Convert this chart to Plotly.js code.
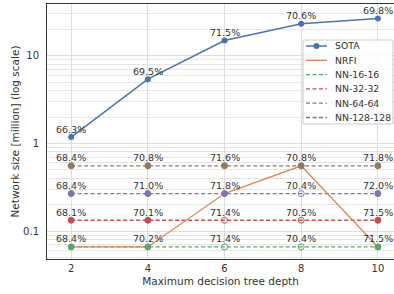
<!DOCTYPE html>
<html>
<head>
<meta charset="utf-8">
<script src="https://cdn.plot.ly/plotly-3.0.1.min.js"></script>
<style>html,body{margin:0;padding:0;background:#fff;}#chart{width:394px;height:294px;}</style>
</head>
<body>
<div id="chart"></div>
<script>
// ---- data ----
const depths = [2, 4, 6, 8, 10];
const seriesNames = ["SOTA", "NRFI", "NN-16-16", "NN-32-32", "NN-64-64", "NN-128-128"];
const sotaSize = [1.18, 5.4, 14.9, 23.1, 26.5];
const sotaAcc = [66.3, 69.5, 71.5, 70.6, 69.8];
const nrfiSize = [0.066, 0.066, 0.268, 0.556, 0.066];
const nn16Size = [0.066, 0.066, 0.066, 0.066, 0.066];
const nn16Acc = [68.4, 70.2, 71.4, 70.4, 71.5];
const nn32Size = [0.133, 0.133, 0.133, 0.133, 0.133];
const nn32Acc = [68.1, 70.1, 71.4, 70.5, 71.5];
const nn64Size = [0.268, 0.268, 0.268, 0.268, 0.268];
const nn64Acc = [68.4, 71.0, 71.8, 70.4, 72.0];
const nn128Size = [0.556, 0.556, 0.556, 0.556, 0.556];
const nn128Acc = [68.4, 70.8, 71.6, 70.8, 71.8];
const yTickVals = [0.1, 1, 10];
const yTickText = ["0.1", "1", "10"];

// ---- style ----
const colors = {
  "SOTA": "#4c72b0", "NRFI": "#dd8452", "NN-16-16": "#55a868",
  "NN-32-32": "#c44e52", "NN-64-64": "#8172b3", "NN-128-128": "#937860"
};
// open (hollow) markers per NN series
const openMarker = {
  "NN-16-16": [false, false, true, true, false],
  "NN-32-32": [false, false, true, true, false],
  "NN-64-64": [false, false, false, true, false],
  "NN-128-128": [false, false, false, false, false]
};
const FONT = "DejaVu Sans, sans-serif";
const TXT = "#333333";

const nnSeries = [
  {name: "NN-16-16", size: nn16Size, acc: nn16Acc},
  {name: "NN-32-32", size: nn32Size, acc: nn32Acc},
  {name: "NN-64-64", size: nn64Size, acc: nn64Acc},
  {name: "NN-128-128", size: nn128Size, acc: nn128Acc}
];

const traces = [];
nnSeries.forEach(s => traces.push({
  x: depths, y: s.size, type: "scatter", mode: "lines", name: s.name, showlegend: false,
  line: {color: colors[s.name], width: 1.3, dash: "4px,2.5px"}, hoverinfo: "skip"
}));
traces.push({
  x: depths, y: nrfiSize, type: "scatter", mode: "lines", name: "NRFI", showlegend: false,
  line: {color: colors["NRFI"], width: 1.3}
});
nnSeries.forEach(s => traces.push({
  x: depths, y: s.size, type: "scatter", mode: "markers", name: s.name, showlegend: false,
  marker: {color: colors[s.name], size: 6,
    symbol: openMarker[s.name].map(o => o ? "circle-open" : "circle"),
    line: {width: 1, color: colors[s.name]}}
}));
traces.push({
  x: depths, y: sotaSize, type: "scatter", mode: "lines+markers", name: "SOTA", showlegend: false,
  line: {color: colors["SOTA"], width: 1.5},
  marker: {color: colors["SOTA"], size: 6}
});

// accuracy labels
const annotations = [];
function addLabels(sizes, accs) {
  depths.forEach((d, i) => annotations.push({
    x: d, y: Math.log10(sizes[i]), xref: "x", yref: "y", showarrow: false,
    text: accs[i].toFixed(1) + "%", yshift: 8, yanchor: "middle", xanchor: "center",
    font: {family: FONT, size: 9.5, color: TXT}
  }));
}
addLabels(sotaSize, sotaAcc);
nnSeries.forEach(s => addLabels(s.size, s.acc));

// custom legend (paper coords computed from plot-area pixels)
const L = 47, T = 4, W = 347, H = 255;
const px = v => (v - L) / W;
const py = v => (T + H - v) / H;
const shapes = [{
  type: "rect", xref: "paper", yref: "paper",
  x0: px(303), x1: px(393), y0: py(124), y1: py(40),
  fillcolor: "rgba(255,255,255,0.85)", line: {color: "#cccccc", width: 1}
}];
seriesNames.forEach((n, i) => {
  const yc = 46 + i * 14.3;
  const isNN = n.startsWith("NN");
  shapes.push({
    type: "line", xref: "paper", yref: "paper",
    x0: px(306), x1: px(327), y0: py(yc), y1: py(yc),
    line: {color: colors[n], width: n === "SOTA" ? 1.5 : 1.3, dash: isNN ? "4px,2.5px" : "solid"}
  });
  if (n === "SOTA") {
    shapes.push({
      type: "circle", xref: "paper", yref: "paper",
      x0: px(313.5), x1: px(319.5), y0: py(yc + 3), y1: py(yc - 3),
      fillcolor: colors[n], line: {color: colors[n], width: 0}
    });
  }
  annotations.push({
    x: px(333), y: py(yc), xref: "paper", yref: "paper", showarrow: false,
    text: n, xanchor: "left", yanchor: "middle",
    font: {family: FONT, size: 9.3, color: TXT}
  });
});

// minor grid values for log axis
const minorVals = [];
for (let e = -2; e <= 1; e++) for (let m = 2; m <= 9; m++) minorVals.push(m * Math.pow(10, e));

const layout = {
  width: 394, height: 294,
  margin: {l: 47, r: 0, t: 4, b: 35, pad: 0},
  paper_bgcolor: "#ffffff", plot_bgcolor: "#ffffff",
  font: {family: FONT, size: 10, color: TXT},
  showlegend: false,
  xaxis: {
    range: [1.37, 10.42], tickvals: depths, ticks: "", showgrid: true,
    gridcolor: "#dddddd", gridwidth: 1, zeroline: false,
    showline: true, linecolor: "#333333", linewidth: 1, mirror: true,
    tickfont: {family: FONT, size: 10, color: TXT},
    title: {text: "Maximum decision tree depth", font: {family: FONT, size: 10.5, color: TXT}, standoff: 4}
  },
  yaxis: {
    type: "log", range: [-1.318, 1.59], tickvals: yTickVals, ticktext: yTickText,
    ticks: "", showgrid: true, gridcolor: "#dddddd", gridwidth: 1, zeroline: false,
    showline: true, linecolor: "#333333", linewidth: 1, mirror: true,
    ticklabelstandoff: 5,
    tickfont: {family: FONT, size: 10, color: TXT},
    minor: {tickvals: minorVals, showgrid: true, gridcolor: "#e6e6e6", gridwidth: 1, ticks: ""},
    title: {text: "Network size [million] (log scale)", font: {family: FONT, size: 10.5, color: TXT}, standoff: 1}
  },
  annotations: annotations,
  shapes: shapes
};

Plotly.newPlot("chart", traces, layout, {displayModeBar: false, staticPlot: true});
</script>
</body>
</html>
